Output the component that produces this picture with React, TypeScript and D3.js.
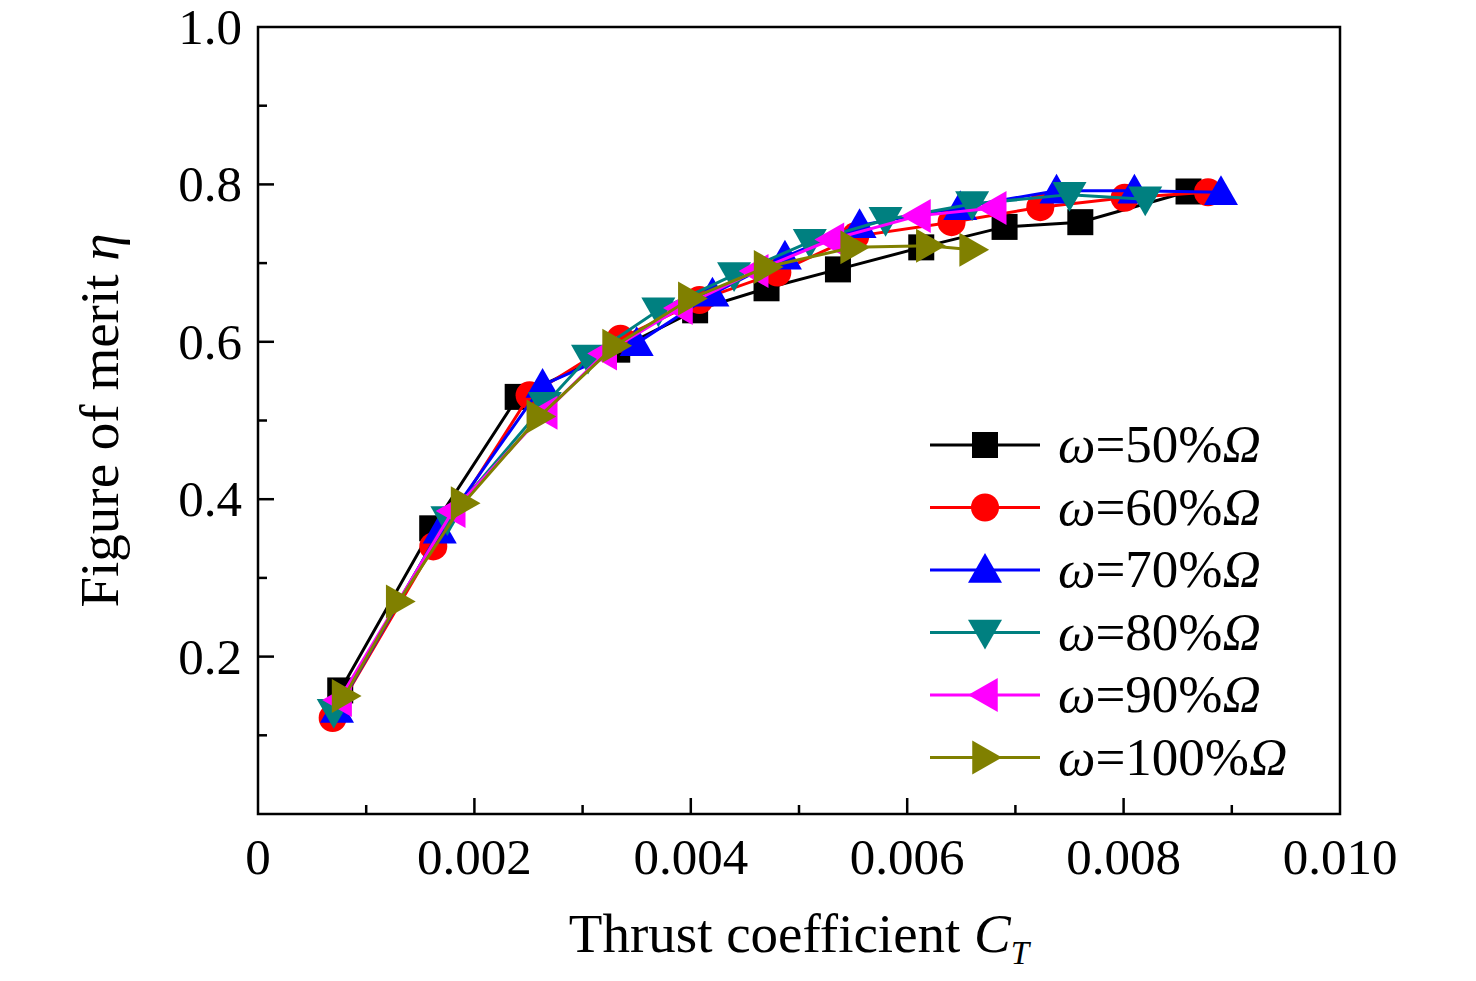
import * as d3 from "d3"

const series = [
  { label: "50%", color: "#000000", shape: "square",
    ct: [0.00076, 0.00161, 0.0024, 0.00332, 0.00404, 0.0047, 0.00536, 0.00613, 0.0069, 0.0076, 0.0086],
    eta: [0.157, 0.363, 0.53, 0.59, 0.64, 0.668, 0.692, 0.72, 0.746, 0.752, 0.791] },
  { label: "60%", color: "#ff0000", shape: "circle",
    ct: [0.00069, 0.00162, 0.00251, 0.00335, 0.00408, 0.0048, 0.00552, 0.00641, 0.00723, 0.00801, 0.00878],
    eta: [0.122, 0.34, 0.532, 0.604, 0.653, 0.688, 0.734, 0.752, 0.771, 0.783, 0.79] },
  { label: "70%", color: "#0000ff", shape: "up",
    ct: [0.00073, 0.00168, 0.00263, 0.0035, 0.0042, 0.00487, 0.00556, 0.00649, 0.00738, 0.0081, 0.0089],
    eta: [0.132, 0.36, 0.545, 0.598, 0.661, 0.708, 0.748, 0.771, 0.792, 0.792, 0.79] },
  { label: "80%", color: "#008080", shape: "down",
    ct: [0.0007, 0.00175, 0.00265, 0.00305, 0.0037, 0.0044, 0.0051, 0.0058, 0.0066, 0.0075, 0.0082],
    eta: [0.13, 0.375, 0.52, 0.58, 0.64, 0.685, 0.727, 0.755, 0.775, 0.787, 0.781] },
  { label: "90%", color: "#ff00ff", shape: "left",
    ct: [0.00075, 0.0018, 0.00265, 0.0032, 0.0039, 0.0046, 0.0053, 0.0061, 0.0068],
    eta: [0.145, 0.385, 0.51, 0.585, 0.643, 0.69, 0.73, 0.76, 0.77] },
  { label: "100%", color: "#808000", shape: "right",
    ct: [0.0008, 0.0013, 0.0019, 0.0026, 0.0033, 0.004, 0.0047, 0.0055, 0.0062, 0.0066],
    eta: [0.15, 0.27, 0.395, 0.505, 0.595, 0.655, 0.695, 0.72, 0.722, 0.717] },
]

const xMajor = [0, 0.002, 0.004, 0.006, 0.008, 0.01]
const xLabels = ["0", "0.002", "0.004", "0.006", "0.008", "0.010"]
const yMajor = [0.2, 0.4, 0.6, 0.8, 1.0]

const font = "'Liberation Serif', 'Times New Roman', serif"

function Marker({ shape, x, y, color }: { shape: string; x: number; y: number; color: string }) {
  const s = 13
  if (shape === "square") return <rect x={x - s} y={y - s} width={2 * s} height={2 * s} fill={color} />
  if (shape === "circle") return <circle cx={x} cy={y} r={s + 1} fill={color} />
  const t = 17
  const pts: Record<string, number[][]> = {
    up: [[0, -t], [t, t * 0.75], [-t, t * 0.75]],
    down: [[0, t], [t, -t * 0.75], [-t, -t * 0.75]],
    left: [[-t, 0], [t * 0.75, -t], [t * 0.75, t]],
    right: [[t, 0], [-t * 0.75, -t], [-t * 0.75, t]],
  }
  return <polygon points={pts[shape].map(p => `${x + p[0]},${y + p[1]}`).join(" ")} fill={color} />
}

export default function App() {
  const W = 1476, H = 981
  const L = 258, R = 1340, T = 27, B = 814
  const x = d3.scaleLinear().domain([0, 0.01]).range([L, R])
  const y = d3.scaleLinear().domain([0, 1]).range([B, T])
  const line = d3.line<[number, number]>().x(d => x(d[0])).y(d => y(d[1]))
  const xMinor = d3.range(0.001, 0.01, 0.002)
  const yMinor = d3.range(0.1, 1, 0.2)
  return (
    <svg width={W} height={H} style={{ display: "block", margin: -8 }} fontFamily={font}>
      <rect width={W} height={H} fill="#fff" />
      {series.map(s => (
        <g key={s.label}>
          <path d={line(s.ct.map((c, i) => [c, s.eta[i]]) as [number, number][]) || ""} fill="none" stroke={s.color} strokeWidth={3} />
          {s.ct.map((c, i) => <Marker key={i} shape={s.shape} x={x(c)} y={y(s.eta[i])} color={s.color} />)}
        </g>
      ))}
      <rect x={L} y={T} width={R - L} height={B - T} fill="none" stroke="#000" strokeWidth={2.5} />
      {xMajor.slice(1, -1).map(v => <line key={v} x1={x(v)} x2={x(v)} y1={B} y2={B - 16} stroke="#000" strokeWidth={2.5} />)}
      {xMinor.map(v => <line key={v} x1={x(v)} x2={x(v)} y1={B} y2={B - 9} stroke="#000" strokeWidth={2.5} />)}
      {yMajor.slice(0, -1).map(v => <line key={v} x1={L} x2={L + 16} y1={y(v)} y2={y(v)} stroke="#000" strokeWidth={2.5} />)}
      {yMinor.map(v => <line key={v} x1={L} x2={L + 9} y1={y(v)} y2={y(v)} stroke="#000" strokeWidth={2.5} />)}
      {xMajor.map((v, i) => (
        <text key={v} x={x(v)} y={B + 60} textAnchor="middle" fontSize={51}>{xLabels[i]}</text>
      ))}
      {yMajor.map(v => (
        <text key={v} x={L - 16} y={y(v) + 17} textAnchor="end" fontSize={51}>{v.toFixed(1)}</text>
      ))}
      <text x={(L + R) / 2} y={952} textAnchor="middle" fontSize={55}>
        Thrust coefficient <tspan fontStyle="italic">C</tspan><tspan fontStyle="italic" fontSize={33} dy={12}>T</tspan>
      </text>
      <text transform={`translate(118, ${(T + B) / 2}) rotate(-90)`} textAnchor="middle" fontSize={55}>
        Figure of merit <tspan fontStyle="italic">η</tspan>
      </text>
      {series.map((s, i) => {
        const ly = 445 + i * 62.5
        return (
          <g key={s.label}>
            <line x1={930} x2={1040} y1={ly} y2={ly} stroke={s.color} strokeWidth={3} />
            <Marker shape={s.shape} x={985} y={ly} color={s.color} />
            <text x={1058} y={ly + 17} fontSize={53}>
              <tspan fontStyle="italic">ω</tspan>={s.label}<tspan fontStyle="italic">Ω</tspan>
            </text>
          </g>
        )
      })}
    </svg>
  )
}
